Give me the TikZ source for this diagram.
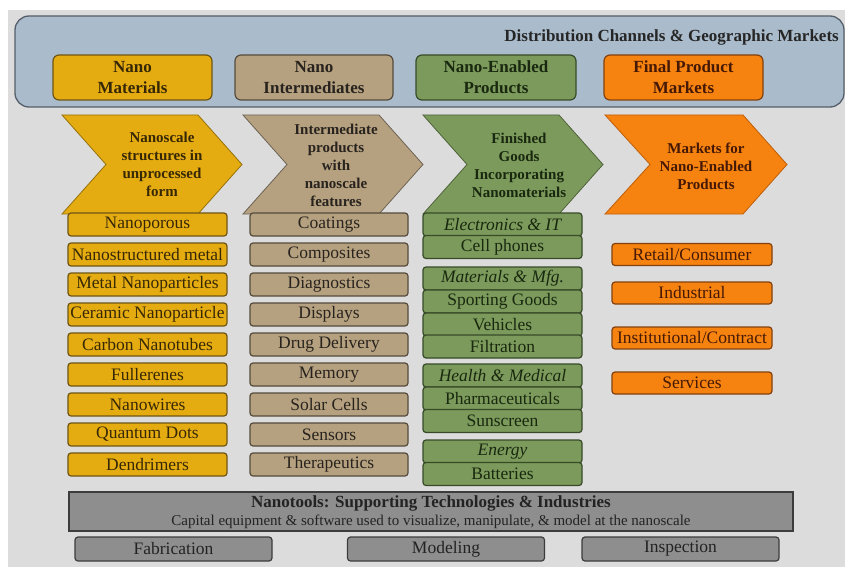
\documentclass[tikz,border=0pt]{standalone}
\usepackage{fontspec}
\setmainfont{Liberation Serif}
\definecolor{bggrey}{RGB}{221,220,221}
\definecolor{npanel}{RGB}{170,187,204}
\definecolor{npanelB}{RGB}{85,95,105}
\definecolor{nyellow}{RGB}{229,172,18}
\definecolor{nyellowB}{RGB}{110,85,20}
\definecolor{nyellowC}{RGB}{150,115,10}
\definecolor{nyellowT}{RGB}{55,40,5}
\definecolor{ntan}{RGB}{181,161,127}
\definecolor{ntanB}{RGB}{85,75,60}
\definecolor{ntanC}{RGB}{110,100,85}
\definecolor{ntanT}{RGB}{40,35,30}
\definecolor{ngreen}{RGB}{123,154,91}
\definecolor{ngreenB}{RGB}{55,75,40}
\definecolor{ngreenC}{RGB}{80,100,60}
\definecolor{ngreenT}{RGB}{25,40,15}
\definecolor{norange}{RGB}{246,130,16}
\definecolor{norangeB}{RGB}{130,65,15}
\definecolor{norangeC}{RGB}{190,95,10}
\definecolor{norangeT}{RGB}{70,25,5}
\definecolor{ngrey}{RGB}{142,142,142}
\definecolor{ngreyB}{RGB}{60,60,60}
\definecolor{ngreyT}{RGB}{35,35,35}
\tikzset{
  topbox/.style={draw, line width=1.2pt, rounded corners=6pt, minimum width=159pt,
    minimum height=45pt, inner sep=0pt, align=center,
    font=\bfseries\fontsize{17}{21}\selectfont},
  chev/.style={line width=0.8pt},
  chevtext/.style={align=center, inner sep=0pt, font=\bfseries\fontsize{15}{18}\selectfont},
  item/.style={draw, line width=1.2pt, rounded corners=3pt, minimum height=23pt,
    inner sep=0pt, font=\fontsize{17.5}{20}\selectfont},
  yitem/.style={item, fill=nyellow, draw=nyellowB, text=nyellowT, minimum width=159pt},
  titem/.style={item, fill=ntan, draw=ntanB, text=ntanT, minimum width=158pt},
  gitem/.style={item, fill=ngreen, draw=ngreenB, text=ngreenT, minimum width=159pt},
  oitem/.style={item, fill=norange, draw=norangeB, text=norangeT, minimum width=160pt, minimum height=22pt},
  bitem/.style={item, fill=ngrey, draw=ngreyB, text=ngreyT, minimum width=197pt, minimum height=24pt},
}
\begin{document}
\begin{tikzpicture}[x=1pt,y=-1pt]
\useasboundingbox (0,0) rectangle (845,567);
\fill[white] (0,0) rectangle (845,567);
\fill[bggrey] (8,10) rectangle (845,567);

% top panel
\draw[fill=npanel, draw=npanelB, line width=1.3pt, rounded corners=14pt] (15,16) rectangle (844,107);
\node[anchor=east, inner sep=0pt, text=black!85, font=\bfseries\fontsize{17}{20}\selectfont] (dist) at (839,37) {Distribution Channels \& Geographic Markets};

\node[topbox, fill=nyellow, draw=nyellowB, text=nyellowT] (tmat) at (132.5,77.5) {Nano\\Materials};
\node[topbox, fill=ntan, draw=ntanB, text=ntanT, minimum width=158pt] (tint) at (314,77.5) {Nano\\Intermediates};
\node[topbox, fill=ngreen, draw=ngreenB, text=ngreenT, minimum width=160pt] (tprod) at (496,77.5) {Nano-Enabled\\Products};
\node[topbox, fill=norange, draw=norangeB, text=norangeT] (tmkt) at (683.5,77.5) {Final Product\\Markets};

% chevrons
\filldraw[chev, fill=nyellow, draw=nyellowC] (62,115) -- (198,115) -- (242,164.5) -- (198,214) -- (62,214) -- (106,164.5) -- cycle;
\filldraw[chev, fill=ntan, draw=ntanC] (243,115) -- (379,115) -- (423,164.5) -- (379,214) -- (243,214) -- (287,164.5) -- cycle;
\filldraw[chev, fill=ngreen, draw=ngreenC] (423,115) -- (559,115) -- (603,164.5) -- (559,214) -- (423,214) -- (467,164.5) -- cycle;
\filldraw[chev, fill=norange, draw=norangeC] (605,115) -- (743,115) -- (787,164.5) -- (743,214) -- (605,214) -- (650,164.5) -- cycle;

\node[chevtext, text=nyellowT] (c1) at (162,164.5) {Nanoscale\\structures in\\unprocessed\\form};
\node[chevtext, text=ntanT] (c2) at (336,165) {Intermediate\\products\\with\\nanoscale\\features};
\node[chevtext, text=ngreenT] (c3) at (519,165) {Finished\\Goods\\Incorporating\\Nanomaterials};
\node[chevtext, text=norangeT] (c4) at (706,166) {Markets for\\Nano-Enabled\\Products};

% column 1
\foreach [count=\i from 0] \t in {Nanoporous, Nanostructured metal, Metal Nanoparticles, Ceramic Nanoparticle, Carbon Nanotubes, Fullerenes, Nanowires, Quantum Dots, Dendrimers}
  \node[yitem] (m\i) at (147.5,{224.5+30*\i}) {\t};

% column 2
\foreach [count=\i from 0] \t in {Coatings, Composites, Diagnostics, Displays, Drug Delivery, Memory, Solar Cells, Sensors, Therapeutics}
  \node[titem] (n\i) at (329,{224.5+30*\i}) {\t};

% column 3
\node[gitem] (g1) at (502.5,224.5) {\itshape Electronics \& IT};
\node[gitem] (g2) at (502.5,247) {Cell phones};
\node[gitem] (g3) at (502.5,278.5) {\itshape Materials \& Mfg.};
\node[gitem] (g4) at (502.5,301.5) {Sporting Goods};
\node[gitem] (g5) at (502.5,324.5) {Vehicles};
\node[gitem] (g6) at (502.5,346.5) {Filtration};
\node[gitem] (g7) at (502.5,375.5) {\itshape Health \& Medical};
\node[gitem] (g8) at (502.5,398.5) {Pharmaceuticals};
\node[gitem] (g9) at (502.5,421) {Sunscreen};
\node[gitem] (g10) at (502.5,451.5) {\itshape Energy};
\node[gitem] (g11) at (502.5,474) {Batteries};

% column 4
\node[oitem] (o1) at (692,254.5) {Retail/Consumer};
\node[oitem] (o2) at (692,293) {Industrial};
\node[oitem] (o3) at (692,338) {Institutional/Contract};
\node[oitem] (o4) at (692,383) {Services};

% nanotools
\node[draw=ngreyB, fill=ngrey, line width=1.2pt, minimum width=724pt, minimum height=39pt, inner sep=0pt] (tools) at (431,511.5) {};
\node[inner sep=0pt, text=ngreyT, font=\bfseries\fontsize{17}{20}\selectfont] (toolsT) at (431,503) {Nanotools: Supporting Technologies \& Industries};
\node[inner sep=0pt, text=ngreyT, font=\fontsize{15}{18}\selectfont] (toolsS) at (431,522) {Capital equipment \& software used to visualize, manipulate, \& model at the nanoscale};

\node[bitem] (fab) at (173.5,549) {Fabrication};
\node[bitem] (mod) at (446,549) {Modeling};
\node[bitem] (insp) at (680.5,549) {Inspection};
\end{tikzpicture}
\end{document}
